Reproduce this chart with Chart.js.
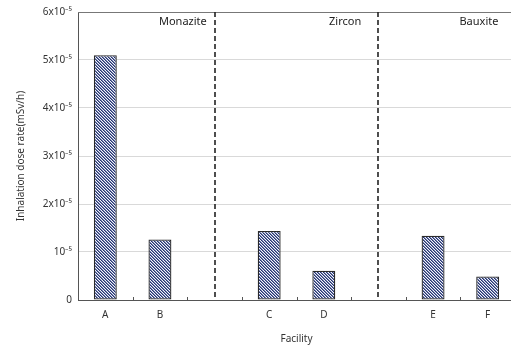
<!DOCTYPE html>
<html>
<head>
<meta charset="utf-8">
<script src="https://cdn.jsdelivr.net/npm/chart.js@4/dist/chart.umd.min.js"></script>
<style>
html,body{margin:0;padding:0;overflow:hidden;background:#fff;}
#wrap{width:515px;height:349px;}
</style>
</head>
<body>
<div id="wrap"><canvas id="c" width="515" height="349"></canvas></div>
<script>
// Data
const categories = ['A', 'B', '', 'C', 'D', '', 'E', 'F'];
const doseRate = [5.1e-5, 1.26e-5, null, 1.44e-5, 0.61e-5, null, 1.34e-5, 0.49e-5];
const yTickValues = [0, 1e-5, 2e-5, 3e-5, 4e-5, 5e-5, 6e-5];
const yTickLabels = ['0', '10⁻⁵', '2x10⁻⁵', '3x10⁻⁵', '4x10⁻⁵', '5x10⁻⁵', '6x10⁻⁵'];
const groupNames = ['Monazite', 'Zircon', 'Bauxite'];
const groupLabelPos = [1.42, 4.39, 6.84];
const dividerPos = [2, 5];

function makePattern() {
  const n = 3;
  const t = document.createElement('canvas');
  t.width = n; t.height = n;
  const g = t.getContext('2d');
  g.fillStyle = '#f4f5fa';
  g.fillRect(0, 0, n, n);
  for (let y = 0; y < n; y++) {
    for (let x = 0; x < n; x++) {
      const d = ((x - y) % n + n) % n;
      if (d === 0) { g.fillStyle = '#27356f'; g.fillRect(x, y, 1, 1); }
      else if (d === 1) { g.fillStyle = '#7380b0'; g.fillRect(x, y, 1, 1); }
    }
  }
  return document.getElementById('c').getContext('2d').createPattern(t, 'repeat');
}

const decor = {
  id: 'decor',
  afterDatasetsDraw(chart) {
    const ctx = chart.ctx, a = chart.chartArea, xs = chart.scales.x;
    ctx.save();
    ctx.strokeStyle = '#777';
    ctx.lineWidth = 1;
    ctx.beginPath(); ctx.moveTo(a.left, a.top + 0.5); ctx.lineTo(a.right, a.top + 0.5); ctx.stroke();
    ctx.strokeStyle = '#555';
    for (let i = 0; i < categories.length - 1; i++) {
      const x = Math.round(xs.getPixelForValue(i + 0.5)) + 0.5;
      ctx.beginPath(); ctx.moveTo(x, a.bottom); ctx.lineTo(x, a.bottom - 3); ctx.stroke();
    }
    ctx.strokeStyle = '#222';
    ctx.lineWidth = 1.6;
    ctx.setLineDash([5, 3]);
    dividerPos.forEach(v => {
      const x = Math.round(xs.getPixelForValue(v));
      ctx.beginPath(); ctx.moveTo(x, a.top); ctx.lineTo(x, a.bottom); ctx.stroke();
    });
    ctx.setLineDash([]);
    ctx.fillStyle = '#222';
    ctx.font = '11px "Noto Sans", sans-serif';
    ctx.textAlign = 'center';
    ctx.textBaseline = 'middle';
    groupNames.forEach((n, i) => {
      ctx.fillText(n, xs.getPixelForValue(groupLabelPos[i]), a.top + 10);
    });
    ctx.restore();
  }
};

new Chart(document.getElementById('c'), {
  type: 'bar',
  data: {
    labels: categories,
    datasets: [{
      data: doseRate,
      backgroundColor: makePattern(),
      borderColor: '#2a2a2a',
      borderWidth: 1.3,
      borderSkipped: false,
      barPercentage: 0.42,
      categoryPercentage: 1.0
    }]
  },
  options: {
    responsive: false,
    animation: false,
    layout: { padding: { top: 11, right: 0, left: 0, bottom: 0 } },
    plugins: { legend: { display: false }, tooltip: { enabled: false } },
    scales: {
      x: {
        grid: { display: false },
        border: { color: '#555', width: 1 },
        ticks: { color: '#333', font: { family: '"Noto Sans", sans-serif', size: 10 }, padding: 1, maxRotation: 0, autoSkip: false },
        title: { display: true, text: 'Facility', color: '#333', font: { family: '"Noto Sans", sans-serif', size: 10 }, padding: { top: 0, bottom: 4 } },
        afterFit(s) { s.height = 49; }
      },
      y: {
        min: 0, max: 6e-5,
        afterBuildTicks(s) { s.ticks = yTickValues.map(v => ({ value: v })); },
        ticks: {
          color: '#333',
          font: { family: '"Noto Sans", sans-serif', size: 10 },
          padding: 6,
          callback(v) { const i = yTickValues.findIndex(t => Math.abs(t - v) < 1e-9); return i >= 0 ? yTickLabels[i] : ''; }
        },
        grid: { color: '#d9d9d9', drawTicks: false, lineWidth: 1 },
        border: { color: '#555', width: 1 },
        title: { display: true, text: 'Inhalation dose rate(mSv/h)', color: '#333', font: { family: '"Noto Sans", sans-serif', size: 10 }, padding: { top: 15, bottom: 0 } },
        afterFit(s) { s.width = 78; }
      }
    }
  },
  plugins: [decor]
});
</script>
</body>
</html>
